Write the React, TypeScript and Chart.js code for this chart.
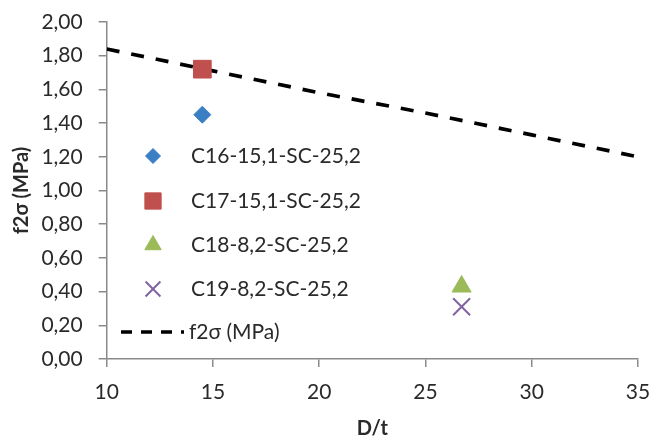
import React, { useEffect, useRef } from "react";
import { Chart, registerables } from "chart.js";
import { drawPoint } from "chart.js/helpers";

Chart.register(...registerables);

const seriesNames = [
  "C16-15,1-SC-25,2",
  "C17-15,1-SC-25,2",
  "C18-8,2-SC-25,2",
  "C19-8,2-SC-25,2",
];
const seriesX = [14.5, 14.5, 26.7, 26.7];
const seriesY = [1.45, 1.72, 0.43, 0.31];
const lineName = "f2σ (MPa)";
const lineX = [10, 15, 20, 25, 30, 35];
const lineY = [1.84, 1.71, 1.58, 1.46, 1.33, 1.2];
const xTitle = "D/t";
const yTitle = "f2σ (MPa)";

const colors = ["#3A7EC4", "#C0504D", "#9BBB59", "#8064A2"];
const styles = ["rectRot", "rect", "triangle", "crossRot"];
const radii = [8.5, 12.5, 11, 12];
const legendRadii = [7.5, 11.5, 9.5, 10.5];

const FONT = "Lato, 'Open Sans', sans-serif";
const TEXT = "#2a2a2a";
const AXIS = "#8a8a8a";

const legendPlugin = {
  id: "insideLegend",
  afterDraw(chart: any) {
    const ctx = chart.ctx;
    const ds = chart.data.datasets;
    const markerX = 153;
    const textX = 191;
    const rows = [156, 201, 245, 289, 332];
    ctx.save();
    ctx.font = `21px ${FONT}`;
    ctx.textBaseline = "middle";
    ctx.textAlign = "left";
    ds.forEach((d: any, i: number) => {
      const y = rows[i];
      if (d.showLine) {
        ctx.strokeStyle = d.borderColor;
        ctx.lineWidth = d.borderWidth;
        ctx.setLineDash([11, 9]);
        ctx.beginPath();
        ctx.moveTo(121, y);
        ctx.lineTo(184, y);
        ctx.stroke();
        ctx.setLineDash([]);
        ctx.fillStyle = TEXT;
        ctx.fillText(d.label, 189, y);
      } else {
        ctx.fillStyle = d.backgroundColor;
        ctx.strokeStyle = d.borderColor;
        ctx.lineWidth = d.borderWidth;
        drawPoint(
          ctx,
          { pointStyle: d.pointStyle, radius: legendRadii[i], borderWidth: d.borderWidth, rotation: 0 },
          markerX,
          y
        );
        ctx.fillStyle = TEXT;
        ctx.fillText(d.label, textX, y);
      }
    });
    ctx.restore();
  },
};

const noPad = (s: any) => {
  s.paddingLeft = 0;
  s.paddingRight = 0;
  s.paddingTop = 0;
  s.paddingBottom = 0;
};

export default function App() {
  const ref = useRef<HTMLCanvasElement>(null);
  useEffect(() => {
    document.body.style.margin = "0";
    const datasets: any[] = seriesNames.map((name, i) => ({
      label: name,
      data: [{ x: seriesX[i], y: seriesY[i] }],
      pointStyle: styles[i],
      pointRadius: radii[i],
      backgroundColor: colors[i],
      borderColor: colors[i],
      borderWidth: styles[i] === "crossRot" ? 2 : 1,
      showLine: false,
    }));
    datasets.push({
      label: lineName,
      data: lineX.map((x, i) => ({ x, y: lineY[i] })),
      showLine: true,
      borderColor: "#000000",
      backgroundColor: "#000000",
      borderWidth: 3.7,
      borderDash: [13, 12],
      pointRadius: 0,
      tension: 0,
    });
    const chart = new Chart(ref.current!, {
      type: "scatter",
      data: { datasets },
      options: {
        animation: false,
        responsive: false,
        layout: { padding: { left: 0, right: 14, top: 22, bottom: 0 } },
        plugins: { legend: { display: false }, tooltip: { enabled: false } },
        scales: {
          x: {
            type: "linear",
            min: 10,
            max: 35,
            ticks: { stepSize: 5, color: TEXT, font: { family: FONT, size: 21 }, padding: 13 },
            grid: { drawOnChartArea: false, drawTicks: true, tickLength: 8, color: AXIS, lineWidth: 1.5 },
            border: { color: AXIS, width: 1.5 },
            title: {
              display: true,
              text: xTitle,
              color: TEXT,
              font: { family: FONT, size: 20, weight: "bold", lineHeight: 1 },
              padding: { top: 0, bottom: 0 },
            },
            afterFit: (s: any) => {
              s.height = 80;
              noPad(s);
            },
          },
          y: {
            type: "linear",
            min: 0,
            max: 2,
            ticks: {
              stepSize: 0.2,
              color: TEXT,
              font: { family: FONT, size: 21 },
              padding: 16,
              callback: (v: any) => Number(v).toFixed(2).replace(".", ","),
            },
            grid: { drawOnChartArea: false, drawTicks: true, tickLength: 8, color: AXIS, lineWidth: 1.5 },
            border: { color: AXIS, width: 1.5 },
            title: {
              display: true,
              text: yTitle,
              color: TEXT,
              font: { family: FONT, size: 20, weight: "bold", lineHeight: 1.2 },
              padding: { top: 10, bottom: 0 },
            },
            afterFit: (s: any) => {
              s.width = 106.7;
              noPad(s);
            },
          },
        },
      },
      plugins: [legendPlugin],
    });
    return () => chart.destroy();
  }, []);
  return (
    <div style={{ width: 652, height: 439, background: "#fff" }}>
      <canvas ref={ref} width={652} height={439} style={{ display: "block" }} />
    </div>
  );
}
